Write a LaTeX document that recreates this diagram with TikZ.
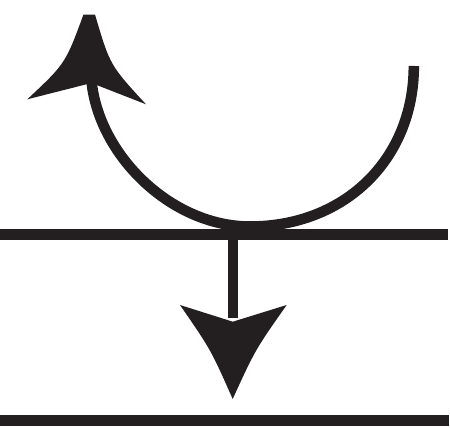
\documentclass[tikz,border=0pt]{standalone}
\usepackage{tikz}
\definecolor{ink}{RGB}{35,31,32}

\begin{document}
\begin{tikzpicture}[scale=0.1]
    \useasboundingbox (0,0) rectangle (45,42.7);

    \draw[ink, line width=3.1pt] (0,19.25) -- (44.77,19.25);
    \draw[ink, line width=3.1pt] (0,0.65) -- (44.9,0.65);

    \coordinate (turnstart) at (41.38,36.1);
    \coordinate (turnlow) at (25,20.05);
    \coordinate (turnend) at (9.15,34.6);
    \coordinate (dropstart) at (23.3,19.25);
    \coordinate (dropend) at (23.3,10.9);

    \draw[ink, line width=3pt] (turnstart) .. controls (41.38,26.8) and (34.5,20.05) .. (turnlow)
        .. controls (17.1,20.05) and (9.87,27.2) .. (turnend);
    \draw[ink, line width=3pt] (dropstart) -- (dropend);

    \fill[ink] (2.73,32.77) .. controls (6.54,36.34) .. (8.35,41.25) -- (9.5,41.25)
        .. controls (11.0,36.17) .. (14.6,32.27) -- (9.15,34.4) -- cycle;
    \fill[ink] (18.0,12.2) .. controls (21.08,7.74) .. (23.27,2.8)
        .. controls (25.53,7.74) .. (28.67,12.2) -- (23.28,10.53) -- cycle;
\end{tikzpicture}
\end{document}
